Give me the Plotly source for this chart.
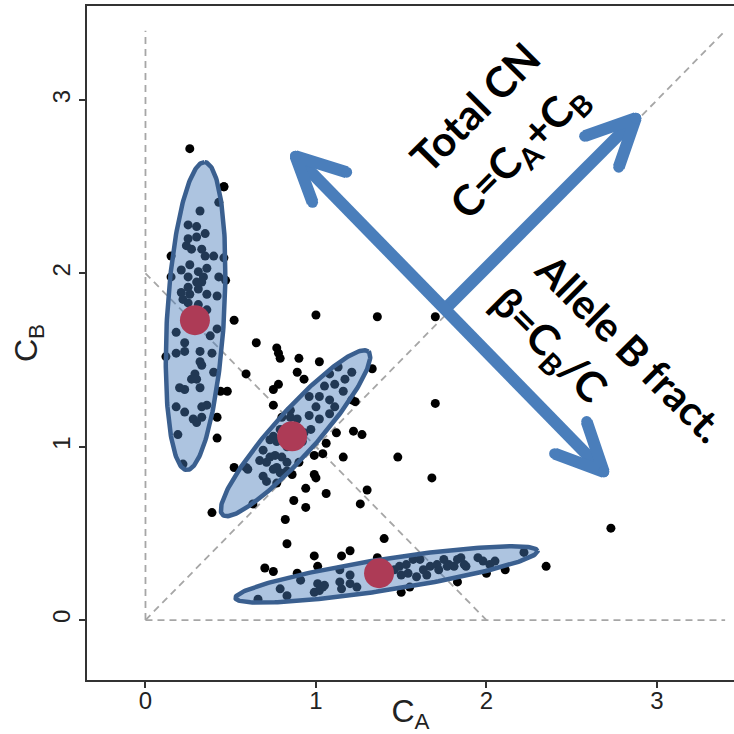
import numpy as np
import plotly.graph_objects as go

# ---- data ----
# cluster around (0.29, 1.73)
c1_x = [0.43, 0.32, 0.25, 0.30, 0.35, 0.30, 0.25, 0.24, 0.27, 0.33, 0.35, 0.40, 0.46, 0.26,
        0.21, 0.31, 0.36, 0.25, 0.34, 0.43, 0.47, 0.30, 0.33, 0.25, 0.21, 0.31, 0.36, 0.42,
        0.26, 0.22, 0.25, 0.31, 0.36, 0.18, 0.23, 0.38, 0.42, 0.18, 0.23, 0.32, 0.39, 0.32,
        0.33, 0.29, 0.27, 0.30, 0.40, 0.20, 0.23, 0.32, 0.18, 0.23, 0.33, 0.36, 0.33, 0.30,
        0.19, 0.22, 0.28, 0.46]
c1_y = [2.41, 2.36, 2.28, 2.27, 2.23, 2.21, 2.20, 2.16, 2.14, 2.14, 2.10, 2.10, 2.09, 2.05,
        2.02, 2.01, 2.03, 1.98, 1.98, 1.98, 1.96, 1.95, 1.95, 1.92, 1.89, 1.91, 1.88, 1.87,
        1.88, 1.85, 1.83, 1.82, 1.79, 1.66, 1.60, 1.64, 1.68, 1.54, 1.55, 1.55, 1.54, 1.49,
        1.47, 1.42, 1.39, 1.39, 1.43, 1.34, 1.33, 1.34, 1.23, 1.20, 1.23, 1.24, 1.17, 1.14,
        1.07, 0.90, 1.16, 2.50]
# cluster around (0.86, 1.06)
c2_x = [1.13, 1.08, 1.21, 1.11, 1.05, 1.16, 1.08, 1.02, 0.96, 1.11, 1.00, 1.21, 1.02, 0.89,
        0.85, 1.08, 0.93, 0.92, 0.83, 0.75, 0.73, 0.77, 0.79, 0.69, 0.71, 0.59, 0.73, 0.77,
        0.69, 0.76, 0.67, 0.71, 0.80, 0.83, 0.75, 0.83, 0.77, 0.86, 0.90, 0.79, 0.85, 0.80,
        0.97, 0.96, 1.17, 0.63]
c2_y = [1.46, 1.42, 1.43, 1.36, 1.35, 1.32, 1.27, 1.29, 1.29, 1.23, 1.23, 1.27, 1.16, 1.16,
        1.21, 1.19, 1.08, 1.03, 1.00, 1.06, 0.94, 0.88, 0.85, 0.83, 0.80, 0.88, 1.04, 1.03,
        0.98, 0.95, 0.92, 0.91, 0.94, 0.91, 0.87, 0.86, 0.79, 0.84, 0.91, 1.10, 1.17, 1.17,
        1.10, 1.18, 1.39, 0.67]
# cluster around (1.37, 0.27)
c3_x = [0.66, 0.79, 0.83, 0.91, 0.89, 1.01, 1.04, 0.99, 1.02, 1.05, 1.14, 1.15, 1.20, 1.20,
        1.24, 1.14, 1.01, 1.49, 1.53, 1.57, 1.61, 1.54, 1.59, 1.63, 1.67, 1.71, 1.75, 1.78,
        1.83, 1.85, 1.88, 1.95, 1.98, 2.02, 2.05, 2.22, 1.65, 1.72, 1.77, 1.81, 1.87, 1.50,
        1.46]
c3_y = [0.12, 0.18, 0.14, 0.23, 0.27, 0.21, 0.19, 0.16, 0.17, 0.20, 0.22, 0.18, 0.26, 0.21,
        0.19, 0.29, 0.31, 0.31, 0.32, 0.35, 0.35, 0.27, 0.25, 0.29, 0.31, 0.32, 0.35, 0.32,
        0.35, 0.36, 0.31, 0.36, 0.34, 0.32, 0.34, 0.39, 0.26, 0.29, 0.31, 0.31, 0.32, 0.26,
        0.29]
# scattered points
out_x = [0.26, 0.46, 0.15, 0.15, 0.52, 0.12, 0.42, 0.42, 0.52, 0.59, 0.44, 0.48, 0.65, 0.77,
         0.78, 0.79, 0.90, 1.00, 1.02, 0.89, 0.93, 0.78, 0.75, 0.75, 1.36, 1.70, 1.33, 1.70,
         1.23, 1.22, 1.27, 1.12, 1.06, 1.04, 0.99, 1.16, 1.48, 1.68, 0.99, 1.00, 0.94, 1.06,
         1.30, 1.26, 0.94, 1.40, 0.39, 0.82, 0.87, 0.83, 0.60, 2.73, 2.35, 0.70, 0.75, 0.99,
         1.15, 1.20, 1.36, 1.50, 1.55, 1.83, 2.00, 2.11]
out_y = [2.72, 2.50, 2.10, 1.98, 1.73, 1.52, 1.17, 1.05, 0.88, 1.42, 1.32, 1.32, 1.60, 1.57,
         1.54, 1.51, 1.51, 1.76, 1.49, 1.43, 1.39, 1.36, 1.33, 1.24, 1.75, 1.75, 1.45, 1.25,
         1.26, 1.09, 1.07, 1.08, 1.02, 0.96, 0.95, 0.94, 0.94, 0.82, 0.84, 0.82, 0.76, 0.73,
         0.75, 0.67, 0.65, 0.47, 0.62, 0.58, 0.69, 0.44, 0.87, 0.53, 0.31, 0.30, 0.28, 0.37,
         0.37, 0.40, 0.36, 0.16, 0.19, 0.22, 0.27, 0.29]

# cluster centres (red)
ctr_x = [0.29, 0.86, 1.37]
ctr_y = [1.73, 1.06, 0.27]

# ellipses: centre, semi-major vector, semi-minor length
ell_cx = [0.294, 0.880, 1.414]
ell_cy = [1.754, 1.078, 0.263]
ell_ux = [0.053, 0.428, 0.886]
ell_uy = [0.888, 0.471, 0.136]
ell_b = [0.167, 0.128, 0.090]

# dashed guides (x0, y0, x1, y1)
guide_x0 = [0, 0, 0, 0]
guide_y0 = [0, 0, 0, 2]
guide_x1 = [0, 3.4, 3.4, 2]
guide_y1 = [3.4, 0, 3.4, 0]

# arrows: shaft endpoints and arrow-head arms
total_x = [1.766, 2.876]
total_y = [1.803, 2.896]
total_head_x = [2.576, 2.876, 2.776]
total_head_y = [2.792, 2.896, 2.613]
baf_x = [0.880, 2.688]
baf_y = [2.676, 0.855]
baf_head1_x = [1.180, 0.880, 0.980]
baf_head1_y = [2.584, 2.676, 2.410]
baf_head2_x = [2.400, 2.688, 2.588]
baf_head2_y = [0.960, 0.855, 1.145]

tick_vals = [0, 1, 2, 3]
tick_text = ["0", "1", "2", "3"]

ARROW = "#4a7ebb"

fig = go.Figure()

gx, gy = [], []
for a, b, c, d in zip(guide_x0, guide_y0, guide_x1, guide_y1):
    gx += [a, c, None]
    gy += [b, d, None]
fig.add_trace(go.Scatter(x=gx, y=gy, mode="lines",
                         line=dict(color="#a6a6a6", width=1.8, dash="7px,5px"),
                         hoverinfo="skip"))

fig.add_trace(go.Scatter(x=c1_x + c2_x + c3_x + out_x, y=c1_y + c2_y + c3_y + out_y,
                         mode="markers", marker=dict(color="black", size=9),
                         hoverinfo="skip"))

t = np.linspace(0, 2 * np.pi, 240)
for cx, cy, ux, uy, bb in zip(ell_cx, ell_cy, ell_ux, ell_uy, ell_b):
    n = np.hypot(ux, uy)
    vx, vy = -uy / n * bb, ux / n * bb
    ex = cx + ux * np.cos(t) + vx * np.sin(t)
    ey = cy + uy * np.cos(t) + vy * np.sin(t)
    fig.add_trace(go.Scatter(x=ex, y=ey, mode="lines", fill="toself",
                             fillcolor="rgba(73,124,186,0.45)",
                             line=dict(color="#3a5f8f", width=4.5),
                             hoverinfo="skip"))

fig.add_trace(go.Scatter(x=ctr_x, y=ctr_y, mode="markers",
                         marker=dict(color="#ad3b56", size=30), hoverinfo="skip"))

for xs, ys in [(total_x, total_y), (total_head_x, total_head_y), (baf_x, baf_y),
               (baf_head1_x, baf_head1_y), (baf_head2_x, baf_head2_y)]:
    fig.add_trace(go.Scatter(x=xs, y=ys, mode="lines+markers",
                             line=dict(color=ARROW, width=12),
                             marker=dict(color=ARROW, size=11),
                             hoverinfo="skip"))

FONT = "Lato"
fig.add_annotation(x=1.931, y=2.960, text="<b>Total CN</b>", showarrow=False,
                   textangle=-45, font=dict(family=FONT, size=42, color="black"))
fig.add_annotation(x=2.195, y=2.700, text="<b>C=C<sub>A</sub>+C<sub>B</sub></b>",
                   showarrow=False, textangle=-45,
                   font=dict(family=FONT, size=42, color="black"))
fig.add_annotation(x=2.845, y=1.575, text="<b>Allele B fract.</b>", showarrow=False,
                   textangle=45, font=dict(family=FONT, size=41, color="black"))
fig.add_annotation(x=2.360, y=1.580, text="<b>β=C<sub>B</sub>/C</b>", showarrow=False,
                   textangle=45, font=dict(family=FONT, size=42, color="black"))

axis_common = dict(showgrid=False, zeroline=False, showline=True, linecolor="#333333",
                   linewidth=1.5, ticks="outside", ticklen=6, tickwidth=1.5,
                   tickcolor="#333333", tickvals=tick_vals, ticktext=tick_text,
                   automargin=False,
                   tickfont=dict(family="Liberation Sans", size=24, color="#222222"))

fig.update_layout(
    width=734, height=734,
    margin=dict(l=87, r=0, t=6, b=54),
    paper_bgcolor="white", plot_bgcolor="white",
    showlegend=False,
    xaxis=dict(range=[-0.343, 3.452], mirror=True, ticklabelstandoff=-8,
               title=dict(text="C<sub>A</sub>", standoff=0,
                          font=dict(family="Liberation Sans", size=32, color="#222222")),
               **axis_common),
    yaxis=dict(range=[-0.346, 3.543], tickangle=-90,
               title=dict(text="C<sub>B</sub>", standoff=0,
                          font=dict(family="Liberation Sans", size=32, color="#222222")),
               **axis_common),
)

fig.write_html("out.html")
